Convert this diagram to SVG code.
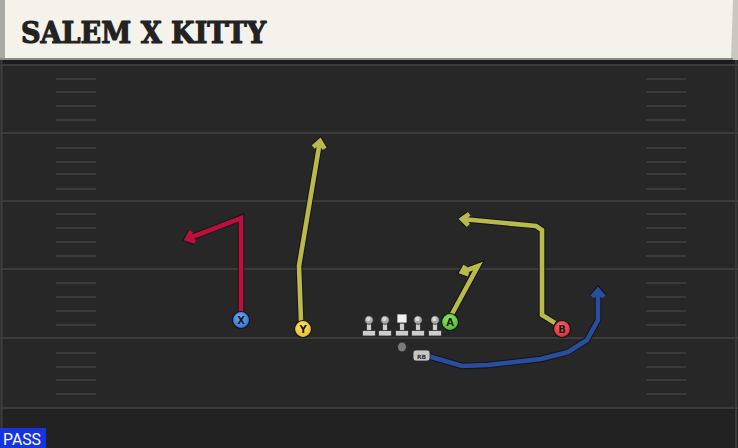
<svg xmlns="http://www.w3.org/2000/svg" width="738" height="448" viewBox="0 0 738 448">
<defs>
<style>
.yl{stroke:#3b3b3b;stroke-width:2;fill:none}
.hs{stroke:#3a3a3a;stroke-width:2;fill:none}
.ol{fill:none;stroke:#14141c;stroke-width:6.6;stroke-linejoin:miter;stroke-linecap:butt}
.rt{fill:none;stroke-width:4.6;stroke-linejoin:miter;stroke-linecap:butt}
.lbl{font-family:"DejaVu Sans","Liberation Sans",sans-serif;font-weight:bold;font-size:10px;fill:#1a1a1a;text-anchor:middle}
.ring{stroke:#15151a;stroke-width:1.2}
.lm{fill:#cdcdcd;stroke:#2a2a2a;stroke-width:0.8}
</style>
<radialGradient id="gx" cx="0.45" cy="0.35" r="0.7"><stop offset="0" stop-color="#6aa8f4"/><stop offset="1" stop-color="#2f6fcf"/></radialGradient>
<radialGradient id="gy" cx="0.45" cy="0.35" r="0.7"><stop offset="0" stop-color="#fde36a"/><stop offset="1" stop-color="#e8b820"/></radialGradient>
<radialGradient id="ga" cx="0.45" cy="0.35" r="0.7"><stop offset="0" stop-color="#8ee86a"/><stop offset="1" stop-color="#48b42c"/></radialGradient>
<radialGradient id="gb" cx="0.45" cy="0.35" r="0.7"><stop offset="0" stop-color="#f66a72"/><stop offset="1" stop-color="#d8242e"/></radialGradient>
<g id="lineman">
<rect class="lm" x="-2.5" y="3" width="5" height="8.5"/>
<rect class="lm" x="-6.5" y="10.5" width="13" height="5.5" rx="1"/>
<circle cx="0" cy="0" r="4.3" fill="#a9a9a9" stroke="#2a2a2a" stroke-width="0.8"/>
<circle cx="-0.6" cy="-1" r="2.2" fill="#dadada"/>
</g>
</defs>

<!-- field -->
<rect x="0" y="0" width="738" height="448" fill="#272727"/>
<rect x="0" y="408" width="738" height="40" fill="#222222"/>
<rect x="0" y="59" width="738" height="6" fill="#1c1c1c"/>
<line x1="1.5" y1="60" x2="1.5" y2="448" stroke="#3e3e3e" stroke-width="2"/>
<line x1="736" y1="60" x2="736" y2="448" stroke="#3a3a3a" stroke-width="2"/>

<g id="yardlines">
<line class="yl" x1="0" y1="65" x2="738" y2="65"/>
<line class="yl" x1="0" y1="133" x2="738" y2="133"/>
<line class="yl" x1="0" y1="201" x2="738" y2="201"/>
<line class="yl" x1="0" y1="269" x2="738" y2="269"/>
<line class="yl" x1="0" y1="338" x2="738" y2="338"/>
<line class="yl" x1="0" y1="408" x2="738" y2="408"/>
</g>
<g id="hashes">
<path class="hs" d="M56 79H96M56 92H96M56 106H96M56 120H96M56 148H96M56 162H96M56 174H96M56 189H96M56 214H96M56 228H96M56 242H96M56 256H96M56 283H96M56 297H96M56 311H96M56 325H96M56 353H96M56 367H96M56 380H96M56 394H96"/>
<path class="hs" d="M646 79H686M646 92H686M646 106H686M646 120H686M646 148H686M646 162H686M646 174H686M646 189H686M646 214H686M646 228H686M646 242H686M646 256H686M646 283H686M646 297H686M646 311H686M646 325H686M646 353H686M646 367H686M646 380H686M646 394H686"/>
</g>

<!-- header -->
<g id="header">
<rect x="0" y="0" width="733" height="59" fill="#f5f2ec"/>
<rect x="0" y="0" width="5" height="59" fill="#a9aaa6"/>
<polygon points="733,0 738,0 738,60 731,60" fill="#c9c7c0"/>
<rect x="0" y="58" width="733" height="2" fill="#8a8a86"/>
<text x="21" y="43" font-family="'DejaVu Serif','Liberation Serif',serif" font-weight="bold" font-size="29" fill="#222" stroke="#222" stroke-width="1.2" stroke-linejoin="round" textLength="245" lengthAdjust="spacingAndGlyphs">SALEM X KITTY</text>
</g>

<!-- connectors / routes -->
<g id="routes">
<path class="ol" d="M241 312V218L187 239M191.3 231.1L187 239L195.5 241.9"/>
<path class="rt" stroke="#b8123a" d="M241 312V218L187 239M191.3 231.1L187 239L195.5 241.9"/>
<path class="ol" d="M301 321L299 266L320 141M313.2 146.9L320 141L324.6 148.7"/>
<path class="rt" stroke="#b9b94c" d="M301 321L299 266L320 141M313.2 146.9L320 141L324.6 148.7"/>
<path class="ol" d="M452 314L478 266L462 272M465.4 265.9L462 272L468.6 274.3"/>
<path class="rt" stroke="#b9b94c" d="M452 314L478 266L462 272M465.4 265.9L462 272L468.6 274.3"/>
<path class="ol" d="M555 323L542 315V230L536 226L462 219M469.3 213.8L462 219L468.4 225.3"/>
<path class="rt" stroke="#b9b94c" d="M555 323L542 315V230L536 226L462 219M469.3 213.8L462 219L468.4 225.3"/>
<path class="ol" d="M428 356L462 366L488 365L541 359L568 352L587 340L598 320V290M592.2 296.9L598 290L603.8 296.9"/>
<path class="rt" stroke="#2a4e9e" d="M428 356L462 366L488 365L541 359L568 352L587 340L598 320V290M592.2 296.9L598 290L603.8 296.9"/>
</g>

<!-- players -->
<g id="X"><circle class="ring" cx="241" cy="320" r="8.5" fill="url(#gx)"/><text class="lbl" x="241" y="324">X</text></g>
<g id="Y"><circle class="ring" cx="303" cy="329" r="8.5" fill="url(#gy)"/><text class="lbl" x="303" y="333">Y</text></g>
<g id="A"><circle class="ring" cx="450" cy="322" r="8.5" fill="url(#ga)"/><text class="lbl" x="450" y="326">A</text></g>
<g id="B"><circle class="ring" cx="562" cy="329" r="8.5" fill="url(#gb)"/><text class="lbl" x="562" y="333">B</text></g>

<g id="LT"><use href="#lineman" x="369" y="320"/></g>
<g id="LG"><use href="#lineman" x="385" y="320"/></g>
<g id="C">
<rect class="lm" x="399.5" y="323" width="5" height="8.5"/>
<rect class="lm" x="395.5" y="330.5" width="13" height="5.5" rx="1"/>
<rect x="397" y="314" width="10" height="9" fill="#f2f2f2" stroke="#2a2a2a" stroke-width="0.8"/>
</g>
<g id="RG"><use href="#lineman" x="418" y="320"/></g>
<g id="RT"><use href="#lineman" x="435" y="320"/></g>

<g id="QB"><ellipse cx="402" cy="347" rx="4.5" ry="5" fill="#7a7a7a" stroke="#222" stroke-width="0.8"/></g>
<g id="RB"><rect x="413" y="350" width="17" height="11" rx="3" fill="#c6c6c6" stroke="#2a2a2a" stroke-width="0.8"/><text x="421.5" y="358.5" font-family="'DejaVu Sans',sans-serif" font-size="6" font-weight="bold" fill="#333" text-anchor="middle">RB</text></g>

<!-- play type -->
<g id="pass">
<rect x="0" y="428" width="46" height="20" fill="#1634e0"/>
<text x="3" y="445" font-family="'Roboto','Liberation Sans',sans-serif" font-size="16" fill="#ffffff" textLength="38" lengthAdjust="spacingAndGlyphs">PASS</text>
</g>
</svg>
